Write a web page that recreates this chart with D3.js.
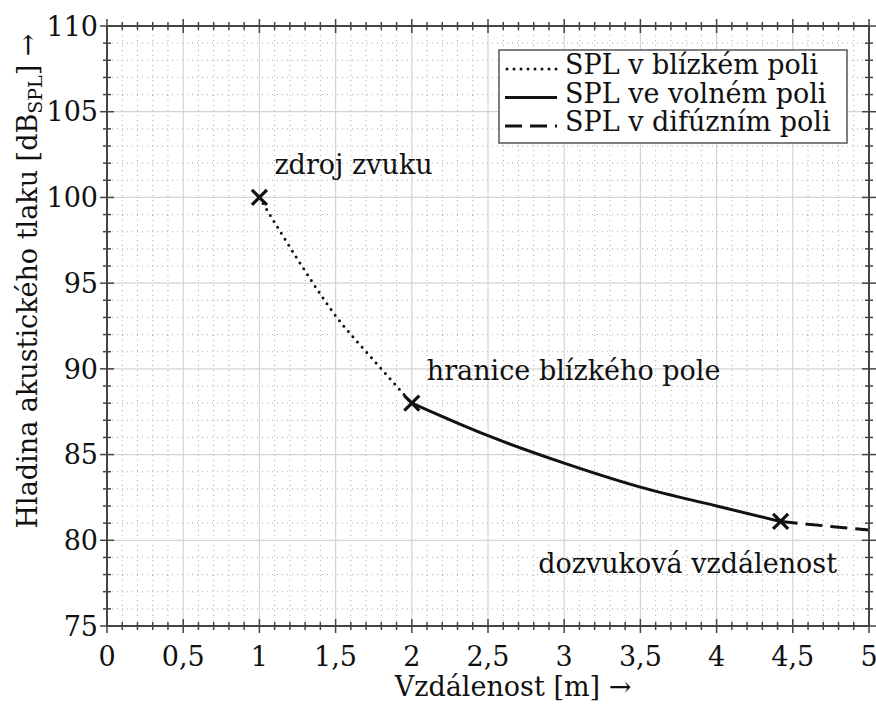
<!DOCTYPE html>
<html>
<head>
<meta charset="utf-8">
<script src="https://cdn.jsdelivr.net/npm/d3@7"></script>
<style>
  body { margin: 0; background: #fff; }
  svg text { font-family: 'DejaVu Serif', serif; fill: #111; }
</style>
</head>
<body>
<div id="chart"></div>
<script>
// Sound pressure level vs. distance from the source

// axis ticks
const xTicks = [0, 0.5, 1, 1.5, 2, 2.5, 3, 3.5, 4, 4.5, 5];
const xTickLabels = ['0', '0,5', '1', '1,5', '2', '2,5', '3', '3,5', '4', '4,5', '5'];
const yTicks = [75, 80, 85, 90, 95, 100, 105, 110];

// near field (dotted)
const nearX = [1, 1.25, 1.5, 1.75, 2];
const nearY = [100, 96.4, 93.1, 90.5, 88];
// free field (solid)
const freeX = [2, 2.5, 3, 3.5, 4, 4.42];
const freeY = [88, 86.1, 84.5, 83.1, 82.0, 81.1];
// diffuse field (dashed)
const diffX = [4.42, 4.7, 5];
const diffY = [81.1, 80.85, 80.6];

// marked points
const markX = [1, 2, 4.42];
const markY = [100, 88, 81.1];
const markLabels = ['zdroj zvuku', 'hranice blízkého pole', 'dozvuková vzdálenost'];

const legendLabels = ['SPL v blízkém poli', 'SPL ve volném poli', 'SPL v difúzním poli'];

const width = 876, height = 708;
const svg = d3.select('#chart').append('svg')
  .attr('width', width)
  .attr('height', height)
  .attr('font-family', "'DejaVu Serif', serif");

const x = d3.scaleLinear().domain([0, 5]).range([107, 869]);
const y = d3.scaleLinear().domain([75, 110]).range([626, 26]);

// grid: minor dotted, major solid
const minorX = d3.range(0, 5.0001, 0.1).filter(v => Math.abs(v * 2 - Math.round(v * 2)) > 1e-6);
const minorY = d3.range(75, 110.0001, 1).filter(v => v % 5 !== 0);

const grid = svg.append('g');
grid.selectAll('.mx').data(minorX).enter().append('line')
  .attr('x1', d => x(d)).attr('x2', d => x(d))
  .attr('y1', y(75)).attr('y2', y(110))
  .attr('stroke', '#aaa').attr('stroke-width', 1).attr('stroke-dasharray', '1,4');
grid.selectAll('.my').data(minorY).enter().append('line')
  .attr('x1', x(0)).attr('x2', x(5))
  .attr('y1', d => y(d)).attr('y2', d => y(d))
  .attr('stroke', '#aaa').attr('stroke-width', 1).attr('stroke-dasharray', '1,4');
grid.selectAll('.gx').data(xTicks).enter().append('line')
  .attr('x1', d => x(d)).attr('x2', d => x(d))
  .attr('y1', y(75)).attr('y2', y(110))
  .attr('stroke', '#d4d4d4').attr('stroke-width', 1.2);
grid.selectAll('.gy').data(yTicks).enter().append('line')
  .attr('x1', x(0)).attr('x2', x(5))
  .attr('y1', d => y(d)).attr('y2', d => y(d))
  .attr('stroke', '#d4d4d4').attr('stroke-width', 1.2);

// curves
const line = d3.line().x(d => x(d[0])).y(d => y(d[1])).curve(d3.curveMonotoneX);
const curves = svg.append('g').attr('fill', 'none').attr('stroke', '#111');
curves.append('path')
  .attr('d', line(d3.zip(nearX, nearY)))
  .attr('stroke-width', 3).attr('stroke-linecap', 'round').attr('stroke-dasharray', '0,7');
curves.append('path')
  .attr('d', line(d3.zip(freeX, freeY)))
  .attr('stroke-width', 3);
curves.append('path')
  .attr('d', line(d3.zip(diffX, diffY)))
  .attr('stroke-width', 3).attr('stroke-dasharray', '17,8');

// X markers
const marks = svg.append('g').attr('stroke', '#111').attr('stroke-width', 3.2);
d3.zip(markX, markY).forEach(([mx, my]) => {
  const cx = x(mx), cy = y(my), s = 7.5;
  marks.append('path')
    .attr('d', `M${cx - s},${cy - s}L${cx + s},${cy + s}M${cx - s},${cy + s}L${cx + s},${cy - s}`);
});

// annotations
const fs = 27;
svg.append('text').attr('x', x(markX[0]) + 15).attr('y', y(markY[0]) - 23)
  .attr('font-size', fs).text(markLabels[0]);
svg.append('text').attr('x', x(markX[1]) + 15).attr('y', y(markY[1]) - 23)
  .attr('font-size', fs).text(markLabels[1]);
svg.append('text').attr('x', x(markX[2]) - 93).attr('y', y(markY[2]) + 52)
  .attr('text-anchor', 'middle')
  .attr('font-size', fs).text(markLabels[2]);

// axes frame
const axisColor = '#444';
svg.append('rect')
  .attr('x', x(0)).attr('y', y(110))
  .attr('width', x(5) - x(0)).attr('height', y(75) - y(110))
  .attr('fill', 'none').attr('stroke', axisColor).attr('stroke-width', 2);

// ticks on all four sides, crossing the frame
const ticks = svg.append('g').attr('stroke', axisColor).attr('stroke-width', 1.5);
const allX = xTicks.map(v => [v, 7]).concat(minorX.map(v => [v, 4]));
const allY = yTicks.map(v => [v, 7]).concat(minorY.map(v => [v, 4]));
allX.forEach(([v, len]) => {
  [y(75), y(110)].forEach(py => {
    ticks.append('line').attr('x1', x(v)).attr('x2', x(v))
      .attr('y1', py - len).attr('y2', py + len);
  });
});
allY.forEach(([v, len]) => {
  [x(0), x(5)].forEach(px => {
    ticks.append('line').attr('x1', px - len).attr('x2', px + len)
      .attr('y1', y(v)).attr('y2', y(v));
  });
});

// tick labels
svg.append('g').selectAll('text').data(xTicks).enter().append('text')
  .attr('x', d => x(d)).attr('y', 666)
  .attr('text-anchor', 'middle').attr('font-size', 27)
  .text((d, i) => xTickLabels[i]);
svg.append('g').selectAll('text').data(yTicks).enter().append('text')
  .attr('x', 98).attr('y', d => y(d)).attr('dy', '0.36em')
  .attr('text-anchor', 'end').attr('font-size', 27)
  .text(d => d);

// axis titles
svg.append('text').attr('x', 513).attr('y', 696)
  .attr('text-anchor', 'middle').attr('font-size', fs)
  .text('Vzdálenost [m] →');

const yTitle = svg.append('text')
  .attr('transform', 'translate(37,281) rotate(-90)')
  .attr('text-anchor', 'middle').attr('font-size', fs);
yTitle.append('tspan').text('Hladina akustického tlaku [dB');
yTitle.append('tspan').attr('font-size', 19).attr('dy', 5).text('SPL');
yTitle.append('tspan').attr('dy', -5).text('] →');

// legend
const legend = svg.append('g');
legend.append('rect')
  .attr('x', 499).attr('y', 50).attr('width', 348).attr('height', 93)
  .attr('fill', '#fff').attr('stroke', '#555').attr('stroke-width', 1.5);
const dashes = ['0,7', null, '17,8'];
legendLabels.forEach((lab, i) => {
  const ly = 69 + i * 28.5;
  legend.append('line')
    .attr('x1', i === 0 ? 507 : 505).attr('x2', 557)
    .attr('y1', ly).attr('y2', ly)
    .attr('stroke', '#111').attr('stroke-width', 3)
    .attr('stroke-linecap', i === 0 ? 'round' : 'butt')
    .attr('stroke-dasharray', dashes[i]);
  legend.append('text')
    .attr('x', 565).attr('y', ly + 5)
    .attr('font-size', fs)
    .text(lab);
});
</script>
</body>
</html>
